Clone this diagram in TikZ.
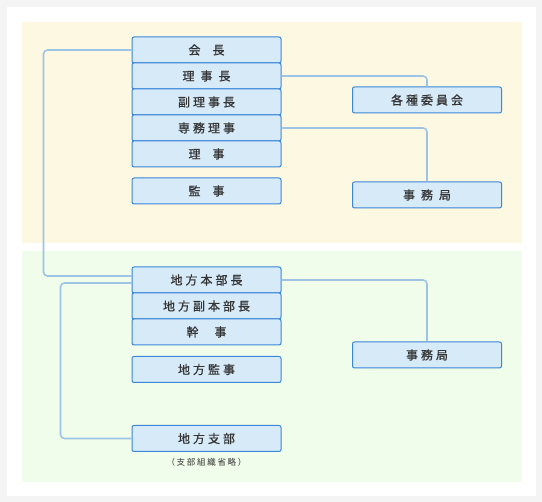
\documentclass[tikz,border=0pt]{standalone}
\usepackage{fontspec}
\usepackage{tikz}
\usetikzlibrary{positioning,calc}
\newfontfamily\jpfont[LetterSpace=25,FakeBold=0.8]{Noto Sans CJK JP}
\newfontfamily\jpsmall[LetterSpace=20]{Noto Sans CJK JP}
\definecolor{orgbg}{RGB}{244,244,244}
\definecolor{orgyellow}{RGB}{253,248,225}
\definecolor{orggreen}{RGB}{240,253,234}
\definecolor{orgblue}{RGB}{58,134,216}
\definecolor{orgfill}{RGB}{214,234,248}
\definecolor{orgline}{RGB}{157,195,230}
\definecolor{orgtext}{RGB}{51,51,51}
\tikzset{
  post/.style={rectangle, rounded corners=2pt, draw=orgblue, line width=1pt, fill=orgfill, minimum width=149pt, minimum height=26pt, inner sep=0pt, text=orgtext, font=\jpfont\fontsize{12}{14}\selectfont},
  link/.style={line width=1.6pt, draw=orgline, rounded corners=4pt},
  note/.style={inner sep=0pt, text=orgtext, font=\jpsmall\fontsize{8.5}{10}\selectfont}
}

\begin{document}
\begin{tikzpicture}[x=1pt,y=-1pt]
\useasboundingbox (0,0) rectangle (542,502);
\fill[orgbg] (0,0) rectangle (542,502);
\fill[white] (7,7) rectangle (536,496);
\fill[orgyellow] (22,22) rectangle (522,243);
\fill[orggreen] (22,251) rectangle (522,482);
% head office
\node[post] (kaicho) at (206.5,50) {会\hspace{12pt}長};
\node[post] (rijicho) at (206.5,76) {理\hspace{6pt}事\hspace{6pt}長};
\node[post] (fukurijicho) at (206.5,102) {副理事長};
\node[post] (senmu) at (206.5,128) {専務理事};
\node[post] (riji) at (206.5,154) {理\hspace{12pt}事};
\node[post] (kanji) at (206.5,191) {監\hspace{12pt}事};
\node[post] (iinkai) at (427,100) {各種委員会};
\node[post] (jimukyoku) at (427,195) {事\hspace{6pt}務\hspace{6pt}局};
% regional offices
\node[post] (honbucho) at (206.5,280) {地方本部長};
\node[post] (fukuhonbucho) at (206.5,306) {地方副本部長};
\node[post] (kanjiR) at (206.5,332) {幹\hspace{16pt}事};
\node[post] (kansaR) at (206.5,369.5) {地方監事};
\node[post] (shibu) at (206.5,438.5) {地方支部};
\node[note] (shibunote) at (206.5,462) {（支部組織省略）};
\node[post] (jimukyokuR) at (427,355) {事務局};
% connectors
\draw[link] (kaicho.west) -- ++(-88,0) |- ([yshift=4pt]honbucho.west);
\draw[link] (rijicho.east) -| (iinkai.north);
\draw[link] (senmu.east) -| (jimukyoku.north);
\draw[link] (honbucho.east) -| (jimukyokuR.north);
\draw[link] ([yshift=-3pt]honbucho.west) -- ++(-71,0) |- (shibu.west);
\end{tikzpicture}
\end{document}
